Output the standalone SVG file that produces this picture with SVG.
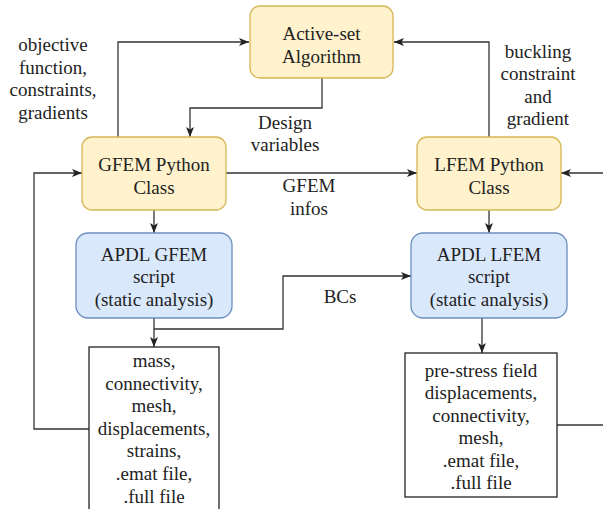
<svg xmlns="http://www.w3.org/2000/svg" width="603" height="509" viewBox="0 0 603 509">
<style>
text{font-family:"Liberation Serif","Times New Roman",serif;font-size:19px;fill:#222;text-anchor:middle}
.y{fill:#fff2cc;stroke:#d6b656;stroke-width:1.3}
.b{fill:#dae8fc;stroke:#6c8ebf;stroke-width:1.3}
.w{fill:#fff;stroke:#222;stroke-width:1.3}
.c{fill:none;stroke:#333;stroke-width:1.3}
.a{marker-end:url(#arr)}
</style>
<defs>
<marker id="arr" viewBox="0 0 10 8" refX="10" refY="4" markerWidth="10" markerHeight="8" orient="auto" markerUnits="userSpaceOnUse">
<path d="M0,0 L10,4 L0,8 L2.5,4 Z" fill="#222"/>
</marker>
</defs>
<rect width="603" height="509" fill="#fff"/>
<g id="connectors">
<path class="c a" d="M118,137 V42 H249"/>
<path class="c a" d="M489,137 V42 H394"/>
<path class="c a" d="M322,78 V108 H190 V137"/>
<path class="c a" d="M226,173 H417"/>
<path class="c a" d="M603,173 H561"/>
<path class="c a" d="M154,210 V233"/>
<path class="c a" d="M489,210 V233"/>
<path class="c a" d="M154,318 V347"/>
<path class="c a" d="M154,329 H283 V276 H411"/>
<path class="c a" d="M482,318 V353"/>
<path class="c a" d="M89,429 H34 V173 H82"/>
<path class="c" d="M557,425 H603"/>
</g>
<g id="labels">
<text x="53" y="51">objective</text>
<text x="53" y="73.6">function,</text>
<text x="53" y="96.2">constraints,</text>
<text x="53" y="118.8">gradients</text>
<text x="538" y="57.5">buckling</text>
<text x="538" y="80">constraint</text>
<text x="538" y="102.5">and</text>
<text x="538" y="125">gradient</text>
<text x="285" y="128.5">Design</text>
<text x="285" y="151">variables</text>
<text x="309" y="192">GFEM</text>
<text x="309" y="214.5">infos</text>
<text x="340" y="303">BCs</text>
</g>
<g id="active-set">
<rect class="y" x="250" y="6" width="143" height="72" rx="10"/>
<text x="321.5" y="40">Active-set</text>
<text x="321.5" y="62.5">Algorithm</text>
</g>
<g id="gfem-python">
<rect class="y" x="82" y="137" width="144" height="73" rx="10"/>
<text x="154" y="171">GFEM Python</text>
<text x="154" y="193.5">Class</text>
</g>
<g id="lfem-python">
<rect class="y" x="417" y="137" width="144" height="73" rx="10"/>
<text x="489" y="171">LFEM Python</text>
<text x="489" y="193.5">Class</text>
</g>
<g id="apdl-gfem">
<rect class="b" x="76" y="233" width="156" height="85" rx="12"/>
<text x="154" y="260.5">APDL GFEM</text>
<text x="154" y="283">script</text>
<text x="154" y="305.5">(static analysis)</text>
</g>
<g id="apdl-lfem">
<rect class="b" x="411" y="233" width="156" height="85" rx="12"/>
<text x="489" y="260.5">APDL LFEM</text>
<text x="489" y="283">script</text>
<text x="489" y="305.5">(static analysis)</text>
</g>
<g id="gfem-output">
<rect class="w" x="89" y="347" width="130" height="170"/>
<text x="154" y="367">mass,</text>
<text x="154" y="389.6">connectivity,</text>
<text x="154" y="412.2">mesh,</text>
<text x="154" y="434.8">displacements,</text>
<text x="154" y="457.4">strains,</text>
<text x="154" y="480">.emat file,</text>
<text x="154" y="502.6">.full file</text>
</g>
<g id="lfem-output">
<rect class="w" x="405" y="353" width="152" height="144"/>
<text x="481" y="376.5">pre-stress field</text>
<text x="481" y="399">displacements,</text>
<text x="481" y="421.5">connectivity,</text>
<text x="481" y="444">mesh,</text>
<text x="481" y="466.5">.emat file,</text>
<text x="481" y="489">.full file</text>
</g>
</svg>
